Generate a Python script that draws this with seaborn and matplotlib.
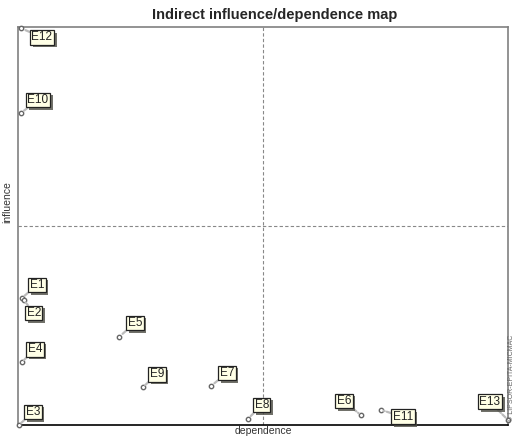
import pandas as pd
import seaborn as sns
import matplotlib.pyplot as plt
import matplotlib.patheffects as pe

labels = ["E12", "E10", "E1", "E2", "E4", "E3", "E5", "E9", "E7", "E8", "E6", "E11", "E13"]
dependence = [0.6, 0.6, 0.8, 1.2, 0.8, 0.2, 20.6, 25.5, 39.4, 46.9, 70.0, 74.1, 100.0]
influence = [99.7, 78.4, 31.9, 31.4, 15.8, 0.0, 22.1, 9.5, 9.8, 1.5, 2.5, 3.8, 1.3]

df = pd.DataFrame({"label": labels, "dependence": dependence, "influence": influence})

# label box offsets in pixels (dx right, dy up)
offsets = {
    "E12": (21, -9), "E10": (17, 13), "E1": (15, 13), "E2": (10, -13),
    "E4": (13, 13), "E3": (14, 13), "E5": (16, 14), "E9": (14, 13),
    "E7": (16, 13), "E8": (14, 14), "E6": (-17, 14), "E11": (22, -7),
    "E13": (-18, 18),
}

sns.set_style("white")
plt.rcParams["font.family"] = ["Liberation Sans", "DejaVu Sans"]

fig = plt.figure(figsize=(5.14, 4.43), dpi=100)
ax = fig.add_axes([0.035, 0.0406, 0.953, 0.8984])

sns.scatterplot(data=df, x="dependence", y="influence", ax=ax, marker="o", s=10,
                facecolor="white", edgecolor="#666666", linewidth=1.0, clip_on=False, zorder=5)

ax.set_xlim(0, 100)
ax.set_ylim(0, 100)
ax.axvline(50, color="#888888", ls=(0, (3, 2)), lw=0.8)
ax.axhline(50, color="#888888", ls=(0, (3, 2)), lw=0.8)

for _, row in df.iterrows():
    dx, dy = offsets[row["label"]]
    ann = ax.annotate(row["label"], (row["dependence"], row["influence"]),
                      xytext=(dx, dy), textcoords="offset pixels",
                      ha="center", va="center", fontsize=8.5, color="#222222",
                      bbox=dict(boxstyle="square,pad=0.12", fc="#ffffe6", ec="#222222", lw=0.9),
                      arrowprops=dict(arrowstyle="-", color="#bbbbbb", lw=1.6, ls=(0, (2, 1)),
                                      shrinkA=0, shrinkB=2),
                      annotation_clip=False, zorder=6)
    ann.get_bbox_patch().set_path_effects([pe.SimplePatchShadow(offset=(2, -2), alpha=0.8),
                                           pe.Normal()])

ax.set_xticks([])
ax.set_yticks([])
for side in ["left", "top", "right"]:
    ax.spines[side].set_color("#808080")
    ax.spines[side].set_linewidth(1.2)
ax.spines["bottom"].set_color("#000000")
ax.spines["bottom"].set_linewidth(1.2)

ax.set_xlabel("dependence", fontsize=7.5, color="#333333", labelpad=1)
ax.set_ylabel("influence", fontsize=7.5, color="#333333")
ax.yaxis.set_label_coords(-0.011, 0.56)
ax.set_title("Indirect influence/dependence map", fontsize=10.5, fontweight="bold", pad=6, x=0.525)

fig.text(0.995, 0.05, "\u00a9 LIPSOR-EPITA-MICMAC", rotation=90, fontsize=5,
         color="#666666", ha="center", va="bottom")

fig.savefig("out.png", dpi=100)
